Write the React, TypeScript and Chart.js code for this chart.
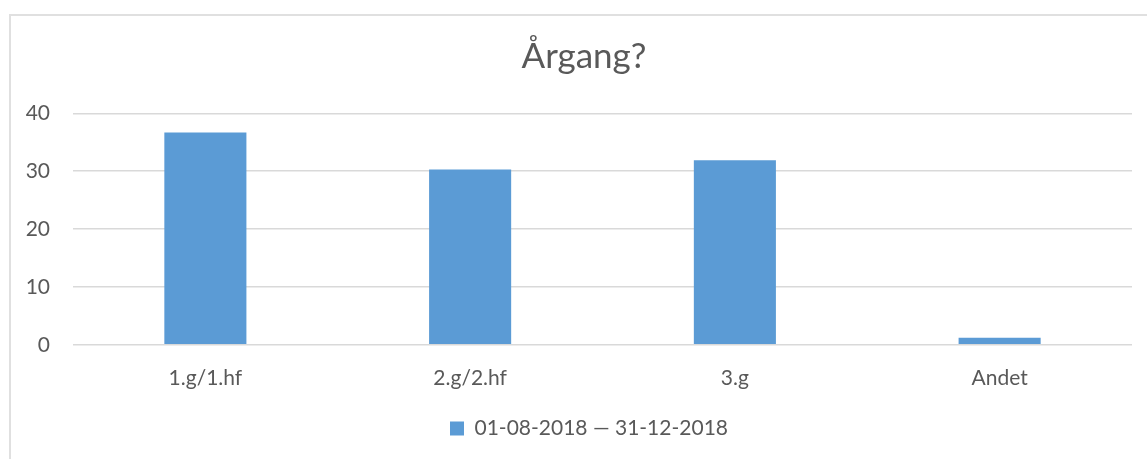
import React, { useEffect, useRef } from "react";
import { Chart, registerables } from "chart.js";

Chart.register(...registerables);

const categories = ["1.g/1.hf", "2.g/2.hf", "3.g", "Andet"];
const values = [36.7, 30.3, 31.9, 1.2];
const seriesLabel = "01-08-2018 — 31-12-2018";
const titleText = "Årgang?";
const yMin = 0;
const yMax = 40;
const yStep = 10;

const FONT = "Lato";
const TEXT_COLOR = "#595959";
const GRID_COLOR = "#d9d9d9";
const BAR_COLOR = "#5b9bd5";

const shiftBoxes = {
  id: "shiftBoxes",
  afterLayout(chart: any) {
    const t = chart.titleBlock;
    if (t) {
      t.left += 18;
      t.right += 18;
    }
    const l = chart.legend;
    if (l) {
      l.left += 23;
      l.right += 23;
      if (l.adjustHitBoxes) l.adjustHitBoxes();
    }
  },
};

export default function App() {
  const canvasRef = useRef<HTMLCanvasElement | null>(null);

  useEffect(() => {
    document.body.style.margin = "0";
    const canvas = canvasRef.current;
    if (!canvas) return;
    const chart = new Chart(canvas, {
      type: "bar",
      data: {
        labels: categories,
        datasets: [
          {
            label: seriesLabel,
            data: values,
            backgroundColor: BAR_COLOR,
            borderWidth: 0,
            barPercentage: 0.31,
            categoryPercentage: 1,
          },
        ],
      },
      plugins: [shiftBoxes],
      options: {
        responsive: false,
        animation: false,
        devicePixelRatio: 1,
        layout: { padding: { left: 0, right: 15, top: 0, bottom: 10 } },
        plugins: {
          title: {
            display: true,
            text: titleText,
            color: TEXT_COLOR,
            font: { family: FONT, size: 35, weight: "normal" },
            padding: { top: 36, bottom: 35.3 },
          },
          legend: {
            position: "bottom",
            labels: {
              boxWidth: 14,
              boxHeight: 14,
              color: TEXT_COLOR,
              font: { family: FONT, size: 21 },
              padding: 10,
            },
          },
          tooltip: { enabled: false },
        },
        scales: {
          x: {
            grid: { display: false },
            border: { display: false },
            ticks: {
              color: TEXT_COLOR,
              font: { family: FONT, size: 21 },
              padding: 13,
            },
            afterFit: (scale: any) => {
              scale.height = 63.2;
            },
          },
          y: {
            min: yMin,
            max: yMax,
            ticks: {
              stepSize: yStep,
              color: TEXT_COLOR,
              font: { family: FONT, size: 21 },
              padding: 23,
            },
            grid: { color: GRID_COLOR, lineWidth: 1.5, drawTicks: false },
            border: { display: false },
            afterFit: (scale: any) => {
              scale.width = 73;
            },
          },
        },
      },
    });
    return () => chart.destroy();
  }, []);

  return (
    <div style={{ position: "relative", width: 1147, height: 459, background: "#fff" }}>
      <div
        style={{
          position: "absolute",
          left: 9,
          top: 14,
          right: 0,
          bottom: 0,
          borderLeft: "2px solid #e0e0e0",
          borderTop: "2px solid #e0e0e0",
        }}
      />
      <canvas
        ref={canvasRef}
        width={1147}
        height={459}
        style={{ position: "absolute", left: 0, top: 0, width: 1147, height: 459 }}
      />
    </div>
  );
}
